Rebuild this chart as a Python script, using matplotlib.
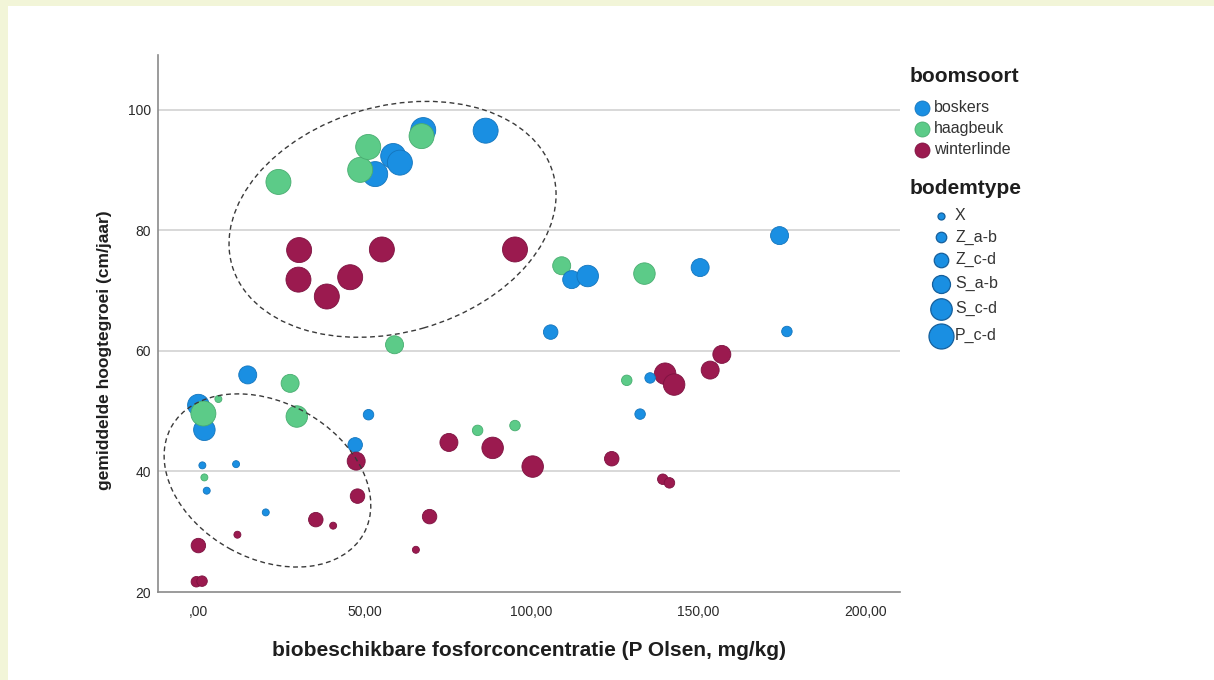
import matplotlib
matplotlib.use("Agg")
import matplotlib.pyplot as plt
from matplotlib import transforms
from matplotlib.patches import Ellipse, Rectangle

# ---- data -------------------------------------------------------------
fosfor = [24.1, 53.1, 48.6, 51.0, 58.5, 60.5, 67.5, 67.0, 86.2,
          30.3, 30.1, 38.6, 45.6, 55.1, 95.0,
          109.0, 112.0, 116.8, 133.8, 150.5, 174.3, 105.7, 176.5, 58.9,
          157.0, 153.5, 140.0, 142.7, 135.5, 128.5, 132.5, 124.0, 139.3, 141.3,
          95.0, 83.8, 75.2, 88.3, 100.3, 69.4, 65.3,
          14.9, 27.6, 0.1, 6.1, 1.9, 1.6, 29.6, 51.1, 47.1, 47.4, 47.8,
          1.3, 11.4, 1.9, 2.6, 20.3, 35.3, 40.5, 11.8, 0.1, -0.5, 1.2]
groei = [88.0, 89.3, 90.0, 93.8, 92.3, 91.2, 96.6, 95.6, 96.5,
         76.7, 71.8, 69.0, 72.2, 76.8, 76.8,
         74.1, 71.8, 72.4, 72.8, 73.8, 79.1, 63.1, 63.2, 61.0,
         59.4, 56.8, 56.2, 54.4, 55.5, 55.1, 49.5, 42.1, 38.7, 38.1,
         47.6, 46.8, 44.8, 43.9, 40.8, 32.5, 27.0,
         56.0, 54.6, 51.0, 52.0, 46.9, 49.6, 49.1, 49.4, 44.4, 41.7, 35.9,
         41.0, 41.2, 39.0, 36.8, 33.2, 32.0, 31.0, 29.5, 27.7, 21.7, 21.8]
boomsoort = ["haagbeuk", "boskers", "haagbeuk", "haagbeuk", "boskers", "boskers", "boskers", "haagbeuk", "boskers",
             "winterlinde", "winterlinde", "winterlinde", "winterlinde", "winterlinde", "winterlinde",
             "haagbeuk", "boskers", "boskers", "haagbeuk", "boskers", "boskers", "boskers", "boskers", "haagbeuk",
             "winterlinde", "winterlinde", "winterlinde", "winterlinde", "boskers", "haagbeuk", "boskers",
             "winterlinde", "winterlinde", "winterlinde",
             "haagbeuk", "haagbeuk", "winterlinde", "winterlinde", "winterlinde", "winterlinde", "winterlinde",
             "boskers", "haagbeuk", "boskers", "haagbeuk", "boskers", "haagbeuk", "haagbeuk", "boskers", "boskers",
             "winterlinde", "winterlinde",
             "boskers", "boskers", "haagbeuk", "boskers", "boskers", "winterlinde", "winterlinde", "winterlinde",
             "winterlinde", "winterlinde", "winterlinde"]
bodemtype = ["P_c-d"] * 15 + \
            ["S_a-b", "S_a-b", "S_c-d", "S_c-d", "S_a-b", "S_a-b", "Z_c-d", "Z_a-b", "S_a-b",
             "S_a-b", "S_a-b", "S_c-d", "S_c-d", "Z_a-b", "Z_a-b", "Z_a-b", "Z_c-d", "Z_a-b", "Z_a-b",
             "Z_a-b", "Z_a-b", "S_a-b", "S_c-d", "S_c-d", "Z_c-d", "X",
             "S_a-b", "S_a-b", "S_c-d", "X", "S_c-d", "P_c-d", "S_c-d", "Z_a-b", "Z_c-d", "S_a-b", "Z_c-d",
             "X", "X", "X", "X", "X", "Z_c-d", "X", "X", "Z_c-d", "Z_a-b", "Z_a-b"]

soorten = ["boskers", "haagbeuk", "winterlinde"]
bodems = ["X", "Z_a-b", "Z_c-d", "S_a-b", "S_c-d", "P_c-d"]
x_ticks = [0, 50, 100, 150, 200]
x_ticklabels = [",00", "50,00", "100,00", "150,00", "200,00"]
y_ticks = [20, 40, 60, 80, 100]

# ---- styling ----------------------------------------------------------
kleur = {"boskers": "#1a8fe2", "haagbeuk": "#5ccb88", "winterlinde": "#9b1a4f"}
rand = {"boskers": "#1475bd", "haagbeuk": "#48ad70", "winterlinde": "#7d1240"}
diam_px = {"X": 7, "Z_a-b": 10.5, "Z_c-d": 14.5, "S_a-b": 18, "S_c-d": 21.5, "P_c-d": 25}
DPI = 100
PX = 72.0 / DPI


def area(code):
    return (diam_px[code] * PX) ** 2


plt.rcParams["font.family"] = ["Liberation Sans", "DejaVu Sans"]

fig = plt.figure(figsize=(12.14, 6.80), dpi=DPI)
fig.patch.set_facecolor("white")

# pale frame strips along the top and left edge
fig.add_artist(Rectangle((0, 1 - 6 / 680), 1, 6 / 680, transform=fig.transFigure,
                         facecolor="#f2f5d8", edgecolor="none", zorder=0))
fig.add_artist(Rectangle((0, 0), 8 / 1214, 1, transform=fig.transFigure,
                         facecolor="#f2f5d8", edgecolor="none", zorder=0))

ax = fig.add_axes([158 / 1214, 88 / 680, 742 / 1214, 537 / 680])
ax.set_xlim(-12.0, 210.4)
ax.set_ylim(20, 109.05)

for gy in y_ticks[1:]:
    ax.axhline(gy, color="#d2d2d2", lw=1.2, zorder=1)

ax.scatter(fosfor, groei,
           s=[area(b) for b in bodemtype],
           c=[kleur[s] for s in boomsoort],
           edgecolors=[rand[s] for s in boomsoort],
           linewidths=0.6, zorder=3)

for side in ["top", "right"]:
    ax.spines[side].set_visible(False)
for side in ["left", "bottom"]:
    ax.spines[side].set_color("#8a8a8a")
    ax.spines[side].set_linewidth(1.2)

ax.set_xticks(x_ticks)
ax.set_xticklabels(x_ticklabels)
ax.set_yticks(y_ticks)
ax.tick_params(axis="both", length=0, labelsize=10, labelcolor="#2a2a2a")
ax.tick_params(axis="x", pad=9)
ax.tick_params(axis="y", pad=5)

ax.set_xlabel("biobeschikbare fosforconcentratie (P Olsen, mg/kg)", fontsize=15,
              fontweight="bold", color="#1e1e1e", labelpad=16)
ax.set_ylabel("gemiddelde hoogtegroei (cm/jaar)", fontsize=12.5, fontweight="bold",
              color="#1e1e1e")
ax.yaxis.set_label_coords(-46 / 742, 0.45)


# dashed outlines around the two groups (centre in data units, axes in pixels)
def groep_ellips(cx, cy, a_px, b_px, hoek):
    tr = fig.dpi_scale_trans + transforms.ScaledTranslation(cx, cy, ax.transData)
    e = Ellipse((0, 0), 2 * a_px / DPI, 2 * b_px / DPI, angle=hoek, transform=tr,
                fill=False, edgecolor="#3a3a3a", lw=1.0, ls=(0, (3.5, 2.5)),
                zorder=4, clip_on=False)
    ax.add_artist(e)


groep_ellips(58.3, 81.8, 167, 113, 16)
groep_ellips(20.8, 38.5, 110, 78, -29)

# ---- legends (drawn in a pixel-unit overlay) ---------------------------
lax = fig.add_axes([0, 0, 1, 1], facecolor="none")
lax.set_xlim(0, 1214)
lax.set_ylim(680, 0)
lax.axis("off")

lax.text(910, 76, "boomsoort", fontsize=15, fontweight="bold", color="#1e1e1e",
         ha="left", va="center")
y0 = 108
for i, s in enumerate(soorten):
    yy = y0 + i * 21
    lax.scatter([922], [yy], s=(15 * PX) ** 2, color=kleur[s], edgecolors=rand[s],
                linewidths=0.6, clip_on=False)
    lax.text(934, yy, s, fontsize=11.5, color="#333333", ha="left", va="center")

lax.text(910, 188, "bodemtype", fontsize=15, fontweight="bold", color="#1e1e1e",
         ha="left", va="center")
yy = 216
vorige = None
for b in bodems:
    if vorige is not None:
        yy += 17.5 + 0.4 * (diam_px[vorige] + diam_px[b]) / 2
    lax.scatter([941], [yy], s=area(b), color=kleur["boskers"], edgecolors="#155f9c",
                linewidths=0.9, clip_on=False)
    lax.text(955, yy, b, fontsize=11.5, color="#333333", ha="left", va="center")
    vorige = b

fig.savefig("out.png", dpi=DPI, facecolor=fig.get_facecolor())
